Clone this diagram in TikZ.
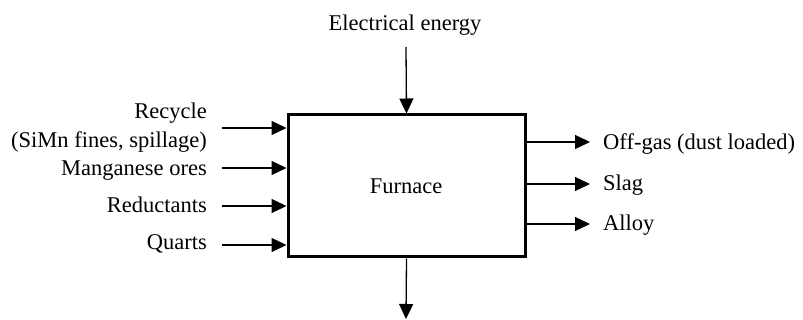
\documentclass[tikz,border=0pt]{standalone}
\usepackage{fontspec}
\setmainfont{Liberation Serif}
\usetikzlibrary{arrows.meta}
\begin{document}
\begin{tikzpicture}[x=1pt,y=-1pt,
  flow/.style={line width=1.3pt,-{Triangle[length=15pt,width=14pt]}},
  lbl/.style={font=\fontsize{22.5}{29}\selectfont,inner sep=0pt},
  furnacebox/.style={draw,line width=3pt,minimum width=237pt,minimum height=142pt,inner sep=0pt}]
\useasboundingbox (0,0) rectangle (803,320);
\node[furnacebox] (F) at (406.5,186) {};
\node[lbl] (Ft) at (406,186) {Furnace};
% top
\node[lbl,anchor=base] (E) at (405,31) {Electrical energy};
\coordinate (Etop) at (406,47);
\draw[flow] (Etop) -- (F.north);
% bottom
\coordinate (Bend) at (406,319);
\draw[flow] (F.south) -- (Bend);
% left inputs
\node[lbl,anchor=east,align=right] (R) at (207,128) {Recycle\\(SiMn fines, spillage)};
\node[lbl,anchor=base east] (M) at (207,176) {Manganese ores};
\node[lbl,anchor=base east] (Rd) at (207,213) {Reductants};
\node[lbl,anchor=base east] (Q) at (207,250) {Quarts};
\coordinate (r1) at (222,128);
\coordinate (r2) at (222,168);
\coordinate (r3) at (222,206);
\coordinate (r4) at (222,245);
\draw[flow] (r1) -- (r1 -| F.west);
\draw[flow] (r2) -- (r2 -| F.west);
\draw[flow] (r3) -- (r3 -| F.west);
\draw[flow] (r4) -- (r4 -| F.west);
% right outputs
\node[lbl,anchor=base west] (O) at (603,150) {Off-gas (dust loaded)};
\node[lbl,anchor=base west] (S) at (603,191) {Slag};
\node[lbl,anchor=base west] (A) at (603,231) {Alloy};
\coordinate (o1) at (590,142);
\coordinate (o2) at (590,184);
\coordinate (o3) at (590,224);
\draw[flow] (o1 -| F.east) -- (o1);
\draw[flow] (o2 -| F.east) -- (o2);
\draw[flow] (o3 -| F.east) -- (o3);
\end{tikzpicture}
\end{document}
